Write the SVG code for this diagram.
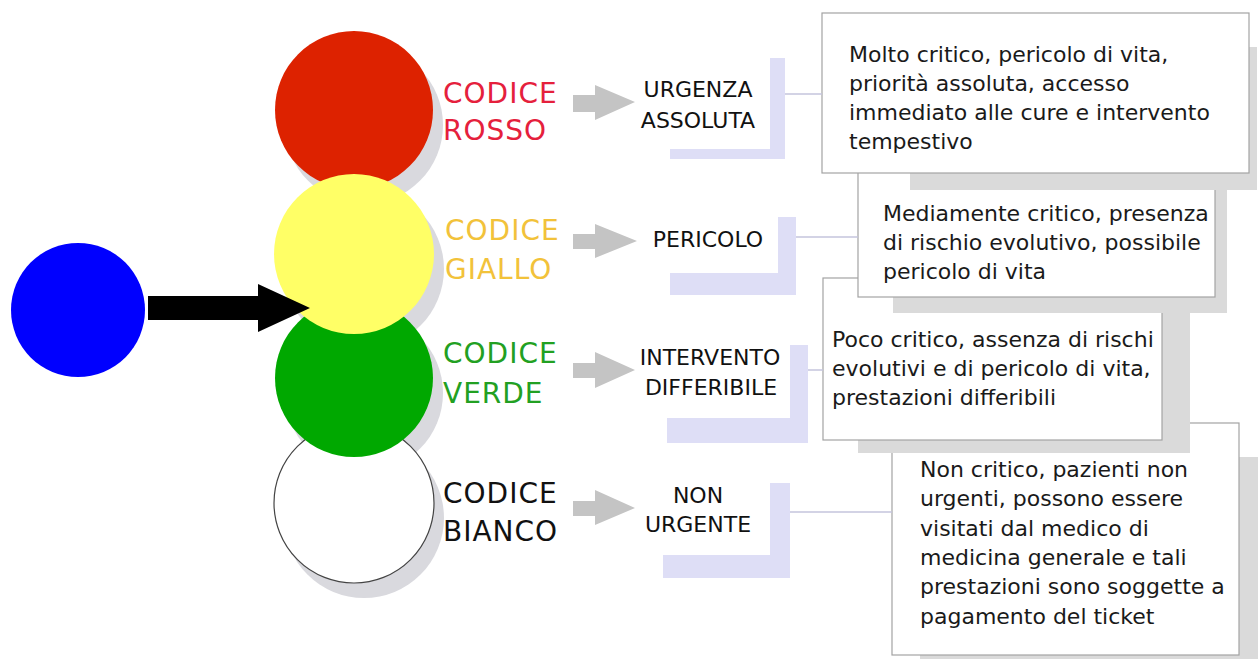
<svg xmlns="http://www.w3.org/2000/svg" width="1258" height="659" viewBox="0 0 1258 659">
<style>
.code{font-family:"DejaVu Sans",Verdana,sans-serif;font-size:28px;letter-spacing:1px}
.lbl{font-family:"DejaVu Sans",Verdana,sans-serif;font-size:22px;fill:#111;text-anchor:middle}
.desc{font-family:"DejaVu Sans",Verdana,sans-serif;font-size:22px;fill:#1a1a1a}
.box{fill:#fff;stroke:#a3a3a3;stroke-width:1.2}
.bshadow{fill:#dadada}
.cshadow{fill:#d9d9de}
.brk{fill:#dedef6}
.gar{fill:#c4c4c4}
.conn{stroke:#c4c4dc;stroke-width:1.5;fill:none}
</style>
<rect width="1258" height="659" fill="#fff"/>

<g id="circle-shadows">
<circle class="cshadow" cx="364" cy="125" r="79"/>
<circle class="cshadow" cx="364" cy="269" r="80"/>
<circle class="cshadow" cx="364" cy="393" r="79"/>
<circle class="cshadow" cx="364" cy="518" r="80"/>
</g>
<g id="red"><circle cx="354" cy="110" r="79" fill="#dd2200"/></g>
<g id="white"><circle cx="354" cy="503" r="80" fill="#fff" stroke="#444" stroke-width="1.2"/></g>
<g id="green"><circle cx="354" cy="378" r="79" fill="#00a800"/></g>
<g id="yellow"><circle cx="354" cy="254" r="80" fill="#ffff66"/></g>
<g id="blue"><circle cx="78" cy="310" r="67" fill="#0000ff"/></g>

<g id="code-labels">
<text class="code" x="443" y="103" fill="#e5203c">CODICE</text>
<text class="code" x="443" y="140" fill="#e5203c">ROSSO</text>
<text class="code" x="445" y="240" fill="#f2c23a">CODICE</text>
<text class="code" x="445" y="279" fill="#f2c23a">GIALLO</text>
<text class="code" x="443" y="363" fill="#22a022">CODICE</text>
<text class="code" x="443" y="403" fill="#22a022">VERDE</text>
<text class="code" x="443" y="503" fill="#111">CODICE</text>
<text class="code" x="443" y="541" fill="#111">BIANCO</text>
</g>

<g id="brackets">
<rect class="brk" x="670" y="58" width="115" height="101"/>
<rect x="640" y="40" width="130" height="109" fill="#fff"/>
<rect class="brk" x="670" y="217" width="126" height="78"/>
<rect x="640" y="200" width="138" height="73" fill="#fff"/>
<rect class="brk" x="667" y="345" width="141" height="98"/>
<rect x="640" y="330" width="150" height="88" fill="#fff"/>
<rect class="brk" x="663" y="483" width="127" height="95"/>
<rect x="640" y="470" width="130" height="85" fill="#fff"/>
</g>

<g id="level-labels">
<text class="lbl" x="698" y="97">URGENZA</text>
<text class="lbl" x="698" y="128">ASSOLUTA</text>
<text class="lbl" x="708" y="247">PERICOLO</text>
<text class="lbl" x="710" y="365">INTERVENTO</text>
<text class="lbl" x="711" y="395">DIFFERIBILE</text>
<text class="lbl" x="698" y="503">NON</text>
<text class="lbl" x="698" y="532">URGENTE</text>
</g>

<g id="box4">
<rect class="bshadow" x="920" y="457" width="340" height="210"/>
<rect class="box" x="892" y="423" width="347" height="232"/>
<text class="desc" x="920" y="477">Non critico, pazienti non</text>
<text class="desc" x="920" y="506">urgenti, possono essere</text>
<text class="desc" x="920" y="536">visitati dal medico di</text>
<text class="desc" x="920" y="565">medicina generale e tali</text>
<text class="desc" x="920" y="594">prestazioni sono soggette a</text>
<text class="desc" x="920" y="624">pagamento del ticket</text>
</g>
<g id="box3">
<rect class="bshadow" x="858" y="300" width="332" height="153"/>
<rect class="box" x="823" y="278" width="339" height="162"/>
<text class="desc" x="832" y="347">Poco critico, assenza di rischi</text>
<text class="desc" x="832" y="376">evolutivi e di pericolo di vita,</text>
<text class="desc" x="832" y="405">prestazioni differibili</text>
</g>
<g id="box2">
<rect class="bshadow" x="893" y="190" width="334" height="123"/>
<rect class="box" x="858" y="165" width="357" height="132"/>
<text class="desc" x="883" y="221">Mediamente critico, presenza</text>
<text class="desc" x="883" y="250">di rischio evolutivo, possibile</text>
<text class="desc" x="883" y="279">pericolo di vita</text>
</g>
<g id="box1">
<rect class="bshadow" x="910" y="47" width="347" height="143"/>
<rect class="box" x="822" y="13" width="427" height="160"/>
<text class="desc" x="849" y="62">Molto critico, pericolo di vita,</text>
<text class="desc" x="849" y="91">priorità assoluta, accesso</text>
<text class="desc" x="849" y="120">immediato alle cure e intervento</text>
<text class="desc" x="849" y="149">tempestivo</text>
</g>

<g id="connectors">
<polygon points="148,296 258,296 258,284 310,308 258,332 258,320 148,320" fill="#000"/>
<polygon class="gar" points="573,95 595,95 595,85 635,102 595,120 595,112 573,112"/>
<polygon class="gar" points="573,234 595,234 595,224 637,241 595,258 595,249 573,249"/>
<polygon class="gar" points="573,363 595,363 595,352 635,370 595,388 595,378 573,378"/>
<polygon class="gar" points="573,501 595,501 595,490 635,508 595,525 595,516 573,516"/>
<line class="conn" x1="785" y1="94" x2="822" y2="94"/>
<line class="conn" x1="796" y1="237" x2="858" y2="237"/>
<line class="conn" x1="808" y1="370" x2="823" y2="370"/>
<line class="conn" x1="790" y1="512" x2="892" y2="512"/>
</g>
</svg>
